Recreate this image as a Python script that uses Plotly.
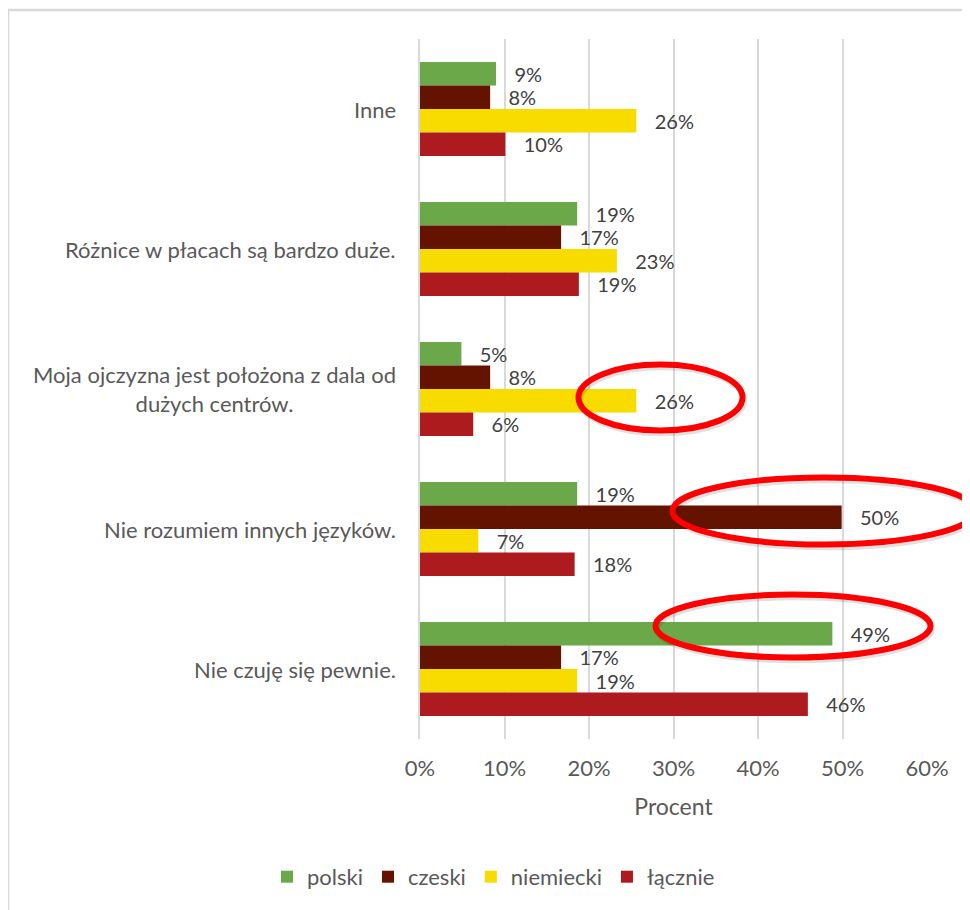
import plotly.graph_objects as go

categories = [
    "Inne",
    "Różnice w płacach są bardzo duże.",
    "Moja ojczyzna jest położona z dala od<br>dużych centrów.",
    "Nie rozumiem innych języków.",
    "Nie czuję się pewnie.",
]
series_names = ["polski", "czeski", "niemiecki", "łącznie"]
polski = [0.090, 0.186, 0.049, 0.186, 0.488]
czeski = [0.083, 0.167, 0.083, 0.499, 0.167]
niemiecki = [0.256, 0.233, 0.256, 0.069, 0.186]
lacznie = [0.101, 0.188, 0.063, 0.183, 0.459]
x_ticks = [0, 0.1, 0.2, 0.3, 0.4, 0.5, 0.6]
x_tick_labels = ["0%", "10%", "20%", "30%", "40%", "50%", "60%"]
colors = ["#6AA84A", "#641300", "#F8DC00", "#AE1B1E"]

FONT = "Lato"
FS = 22
TXT = "#595959"

fig = go.Figure()
for name, vals, col in zip(series_names, [polski, czeski, niemiecki, lacznie], colors):
    fig.add_trace(go.Bar(
        y=categories, x=vals, name=name, orientation="h",
        marker=dict(color=col, line=dict(width=0)),
        texttemplate="\u00a0\u00a0\u00a0%{x:.0%}", textposition="outside",
        textfont=dict(family=FONT, size=20, color="#404040"),
        constraintext="none", cliponaxis=False,
    ))

# category labels as annotations (centered multi-line text)
for c in categories:
    fig.add_annotation(x=0, xref="paper", y=c, yref="y", text=c, showarrow=False,
                       xanchor="right", yanchor="middle", align="center", xshift=-22,
                       font=dict(family=FONT, size=FS, color=TXT))

# chart border
fig.add_shape(type="rect", xref="paper", yref="paper",
              x0=-0.8126, x1=1.3, y0=-0.4, y1=1.0414,
              line=dict(color="#D9D9D9", width=2.5), fillcolor="rgba(0,0,0,0)", layer="below")

# red highlight ellipses (with a faint shadow)
ellipses = [
    (0.3126, 0.6361, 0.4407, 0.535),
    (0.498, 1.096, 0.2779, 0.3736),
    (0.4645, 1.0069, 0.1164, 0.2064),
]
for x0, x1, y0, y1 in ellipses:
    fig.add_shape(type="circle", xref="paper", yref="paper",
                  x0=x0 + 0.003, x1=x1 + 0.003, y0=y0 - 0.004, y1=y1 - 0.004,
                  line=dict(color="rgba(0,0,0,0.12)", width=6))
    fig.add_shape(type="circle", xref="paper", yref="paper",
                  x0=x0, x1=x1, y0=y0, y1=y1,
                  line=dict(color="#FF0000", width=6))

fig.update_layout(
    width=962, height=902,
    margin=dict(l=412, r=43, t=31, b=171),
    barmode="group", bargap=0.33, bargroupgap=0,
    plot_bgcolor="white", paper_bgcolor="white",
    font=dict(family=FONT, size=FS, color=TXT),
    showlegend=True,
    legend=dict(orientation="h", x=0.145, xanchor="center", y=-0.197, yanchor="middle",
                font=dict(family=FONT, size=FS, color=TXT), itemclick=False),
    xaxis=dict(range=[0, 0.6], tickvals=x_ticks, ticktext=x_tick_labels,
               showgrid=True, gridcolor="#D9D9D9", gridwidth=1.5, zeroline=False,
               showline=False, ticks="", ticklabelstandoff=14,
               tickfont=dict(family=FONT, size=FS, color=TXT),
               title=dict(text="Procent", standoff=18,
                          font=dict(family=FONT, size=23, color=TXT))),
    yaxis=dict(autorange="reversed", showticklabels=False, showgrid=False,
               showline=True, linecolor="#D9D9D9", linewidth=2, ticks="", zeroline=False),
)

fig.write_html("out.html")
